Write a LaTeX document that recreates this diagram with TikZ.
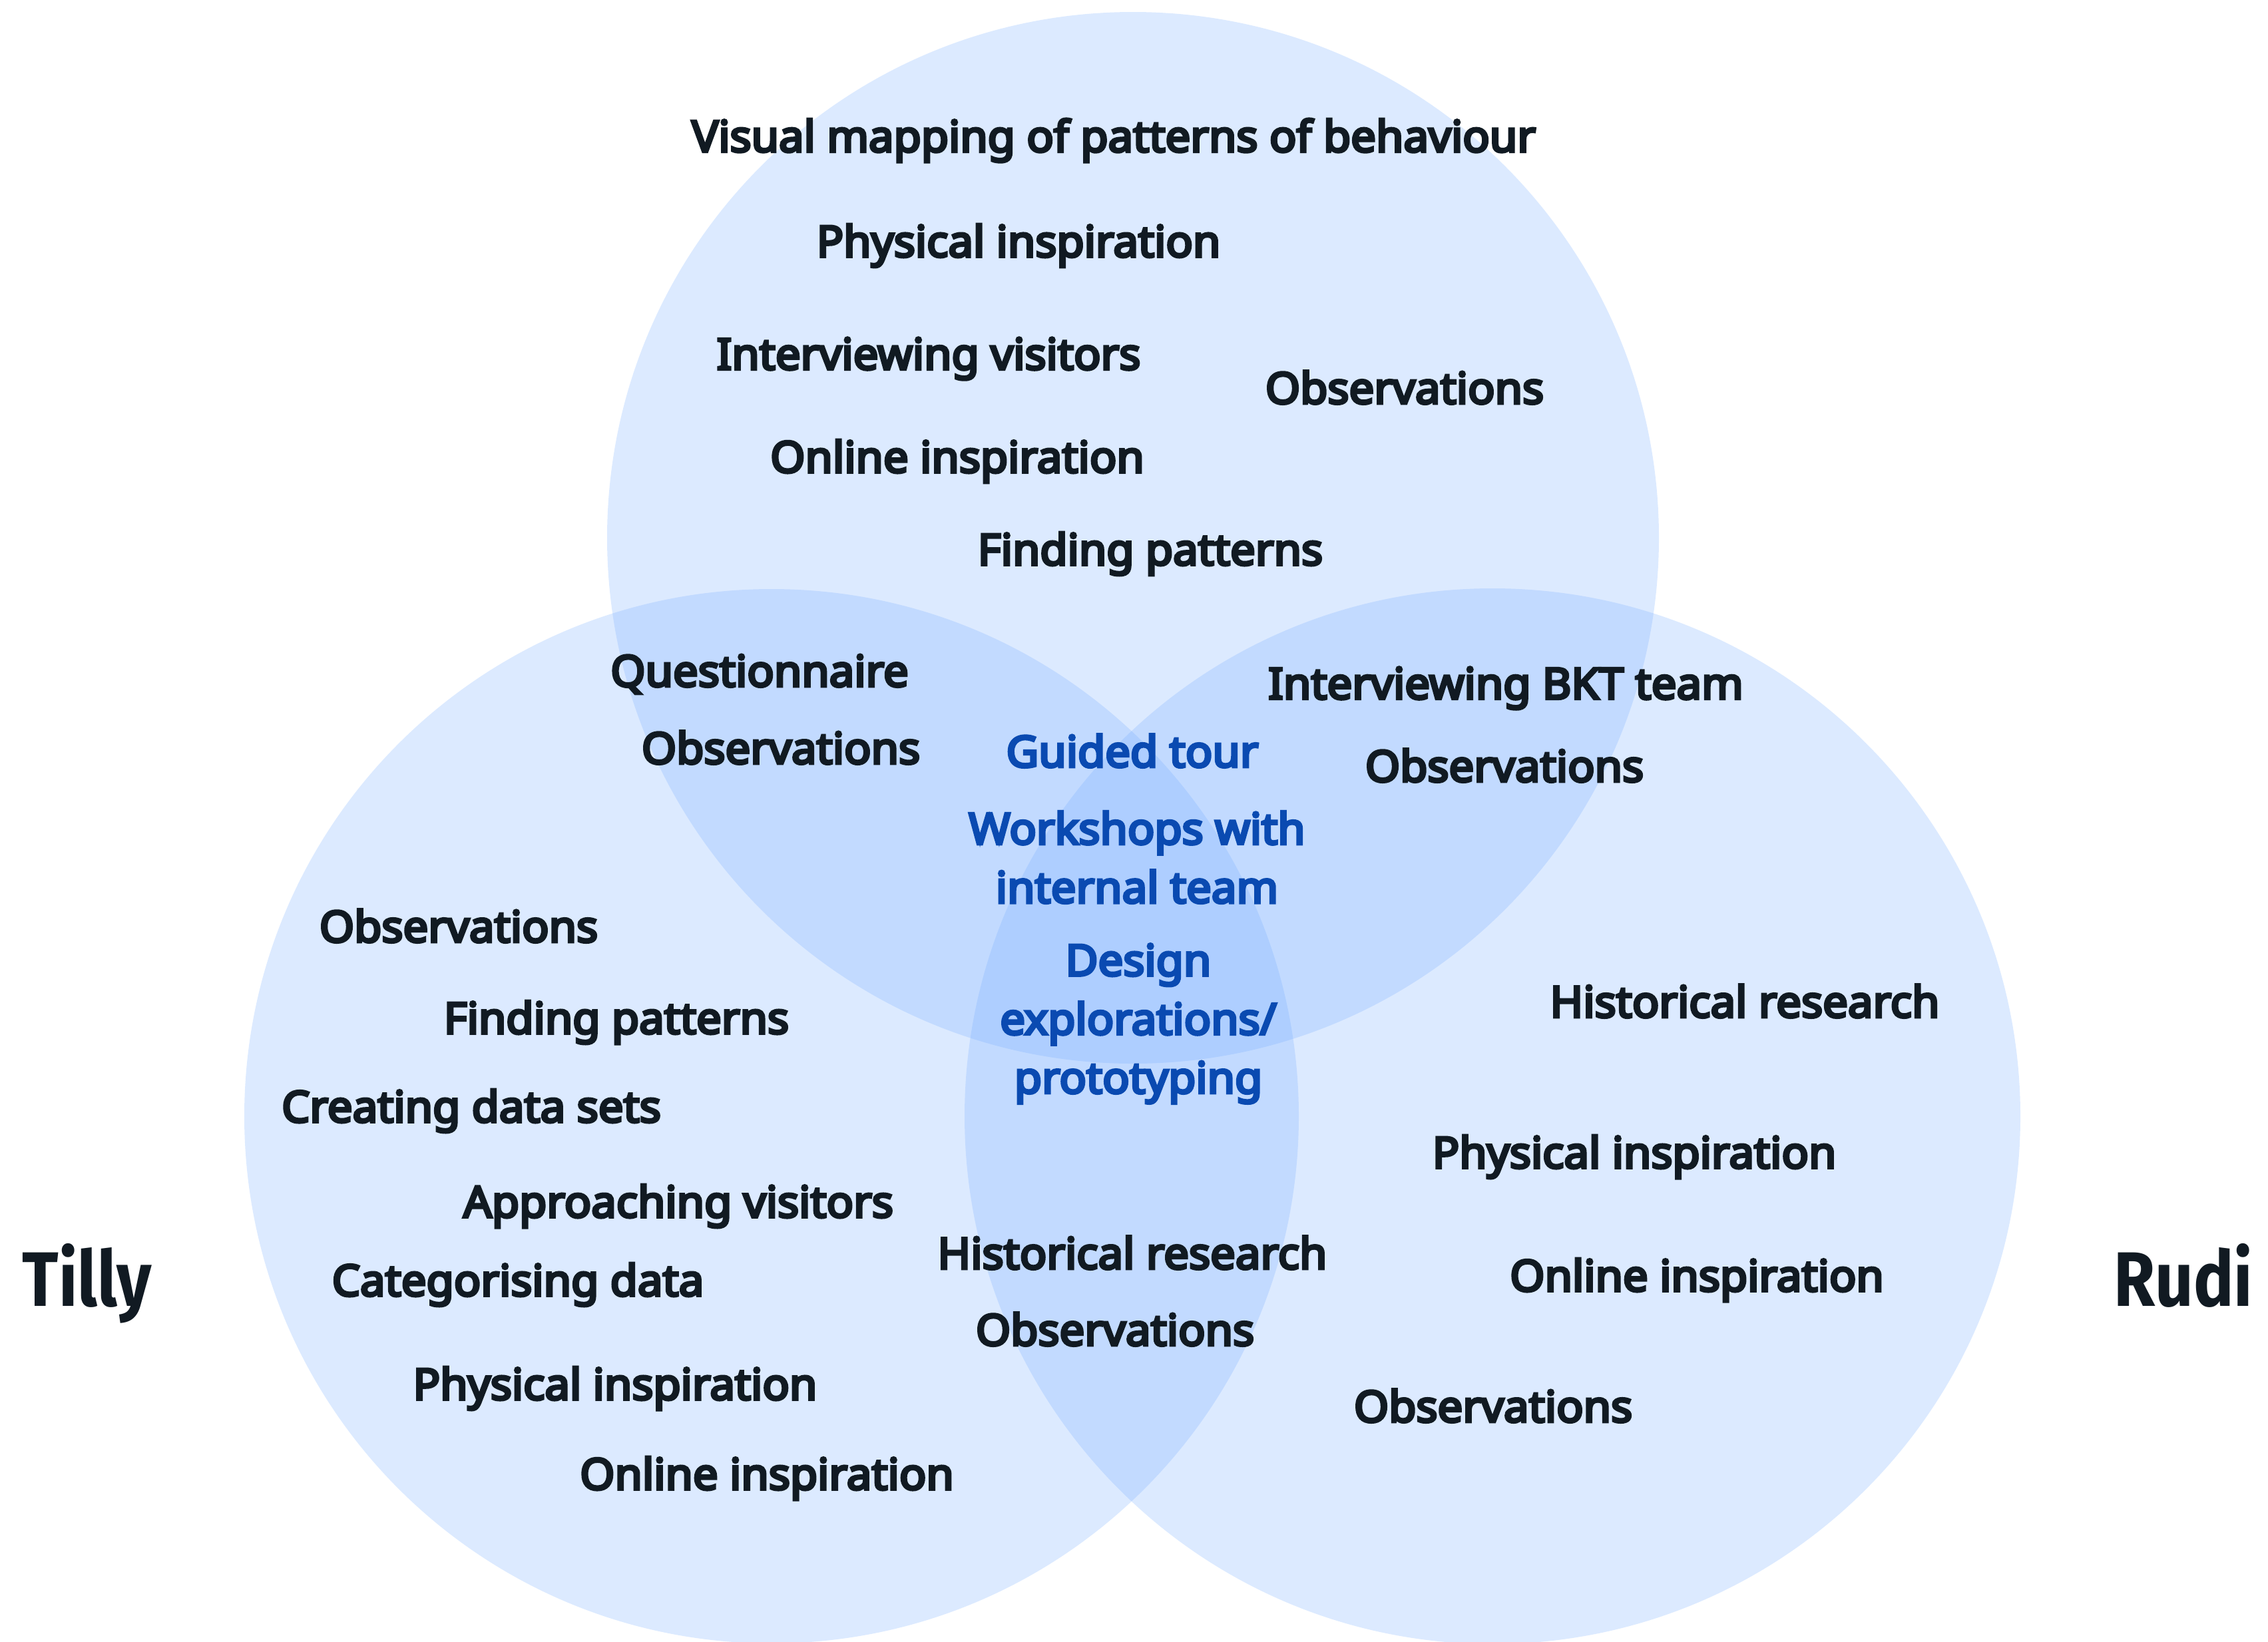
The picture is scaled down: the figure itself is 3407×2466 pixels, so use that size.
\documentclass[tikz,border=0pt]{standalone}
\usepackage{fontspec}
\setmainfont{Noto Sans}[BoldFont = {Noto Sans}, BoldFeatures = {FakeBold = 6, FakeStretch = 1.03}]
\newfontfamily\namefont[FakeStretch=0.87]{Fira Sans}
\usepackage{tikz}

\definecolor{vennblue}{RGB}{119,173,255}
\definecolor{inkdark}{RGB}{17,26,34}
\definecolor{inkblue}{RGB}{10,74,177}

\begin{document}
\begin{tikzpicture}[x = 0.01cm, y = -0.01cm,
                      venn/.style = {fill = vennblue, fill opacity = 0.26},
                      item/.style = {text = inkdark, font = \fontsize{18.5}{25.1}\selectfont\bfseries, inner sep = 0pt},
                      shared/.style = {item, text = inkblue, align = center},
                      person/.style = {text = inkdark, font = \fontsize{33}{40}\selectfont\namefont\bfseries, inner sep = 0pt}]
    \useasboundingbox (0, 0) rectangle (3407, 2466);
    \fill [venn] (1702, 808) circle [radius = 790];
    \fill [venn] (1159, 1677) circle [radius = 792];
    \fill [venn] (2242, 1677) circle [radius = 793];

    % top circle
    \node [item] (t1) at (1673, 211){Visual mapping of patterns of behaviour};
    \node [item] (t2) at (1530, 369){Physical inspiration};
    \node [item] (t3) at (1395, 539){Interviewing visitors};
    \node [item] (t4) at (2110, 582){Observations};
    \node [item] (t5) at (1438, 693){Online inspiration};
    \node [item] (t6) at (1728, 832){Finding patterns};

    % overlaps
    \node [item] (tl1) at (1141, 1013){Questionnaire};
    \node [item] (tl2) at (1173, 1123){Observations};
    \node [item] (tr1) at (2262, 1034){Interviewing BKT team};
    \node [item] (tr2) at (2260, 1150){Observations};
    \node [item] (lr1) at (1701, 1882){Historical research};
    \node [item] (lr2) at (1675, 1997){Observations};

    % centre
    \node [shared] (c1) at (1701, 1128){Guided tour};
    \node [shared] (c2) at (1708, 1288){Workshops with\\internal team};
    \node [shared] (c3) at (1710, 1538){Design\\explorations/\\prototyping};

    % left circle
    \node [item] (l1) at (689, 1391){Observations};
    \node [item] (l2) at (926, 1536){Finding patterns};
    \node [item] (l3) at (708, 1669){Creating data sets};
    \node [item] (l4) at (1019, 1812){Approaching visitors};
    \node [item] (l5) at (778, 1930){Categorising data};
    \node [item] (l6) at (924, 2086){Physical inspiration};
    \node [item] (l7) at (1152, 2221){Online inspiration};

    % right circle
    \node [item] (r1) at (2621, 1504){Historical research};
    \node [item] (r2) at (2455, 1738){Physical inspiration};
    \node [item] (r3) at (2549, 1923){Online inspiration};
    \node [item] (r4) at (2243, 2112){Observations};

    \node [person, anchor = base west] (tilly) at (33, 1962){Tilly};
    \node [person, anchor = base east] (rudi) at (3385, 1962){Rudi};
    \end{tikzpicture}
\end{document}
